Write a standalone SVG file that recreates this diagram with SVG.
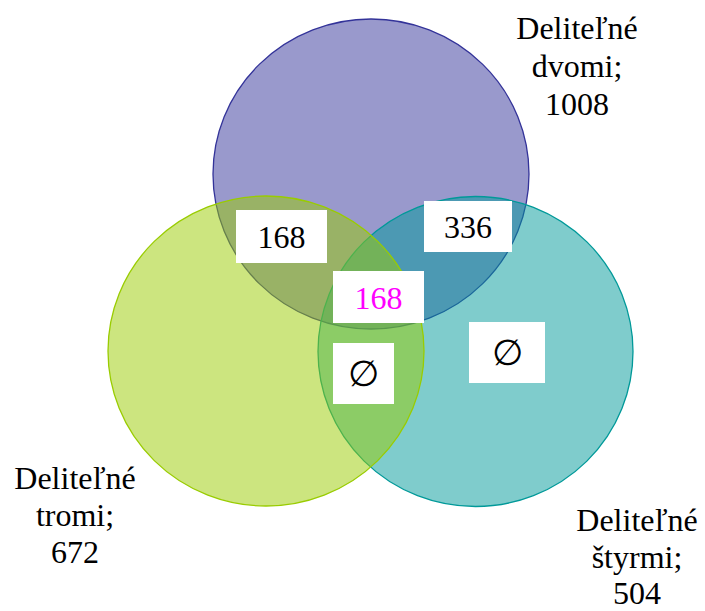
<svg xmlns="http://www.w3.org/2000/svg" width="705" height="611" viewBox="0 0 705 611">
<style>
.c{stroke-width:1.3;fill-opacity:0.5}
.box{fill:#ffffff}
text{font-family:'Liberation Serif','Times New Roman',serif;font-size:32px;fill:#000;text-anchor:middle}
.e{font-size:36px}
</style>
<rect width="705" height="611" fill="#ffffff"/>
<g id="set-dvomi"><ellipse class="c" cx="371" cy="174" rx="158" ry="155" fill="#333399" stroke="#333399"/></g>
<g id="set-styrmi"><ellipse class="c" cx="475.5" cy="351.5" rx="157.5" ry="155" fill="#009999" stroke="#009999"/></g>
<g id="set-tromi"><ellipse class="c" cx="266" cy="351" rx="158" ry="155" fill="#99CC00" stroke="#99CC00"/></g>
<g id="connectors"></g>
<g id="label-dvomi"><text x="577" y="39">Deliteľné</text><text x="577" y="77">dvomi;</text><text x="577" y="115">1008</text></g>
<g id="label-tromi"><text x="75" y="489">Deliteľné</text><text x="75" y="526">tromi;</text><text x="75" y="563">672</text></g>
<g id="label-styrmi"><text x="637" y="531">Deliteľné</text><text x="637" y="568">štyrmi;</text><text x="637" y="604">504</text></g>
<g id="box-2-3"><rect class="box" x="236" y="210" width="91" height="53"/><text x="281.5" y="248">168</text></g>
<g id="box-2-4"><rect class="box" x="424" y="201" width="88" height="51"/><text x="468" y="238">336</text></g>
<g id="box-all"><rect class="box" x="333" y="271" width="91" height="52"/><text x="378.5" y="309" style="fill:#FF00FF">168</text></g>
<g id="box-3-4"><rect class="box" x="333" y="343" width="61" height="61"/><text class="e" x="363.5" y="386">∅</text></g>
<g id="box-4only"><rect class="box" x="469" y="322" width="76" height="61"/><text class="e" x="507" y="365">∅</text></g>
</svg>
